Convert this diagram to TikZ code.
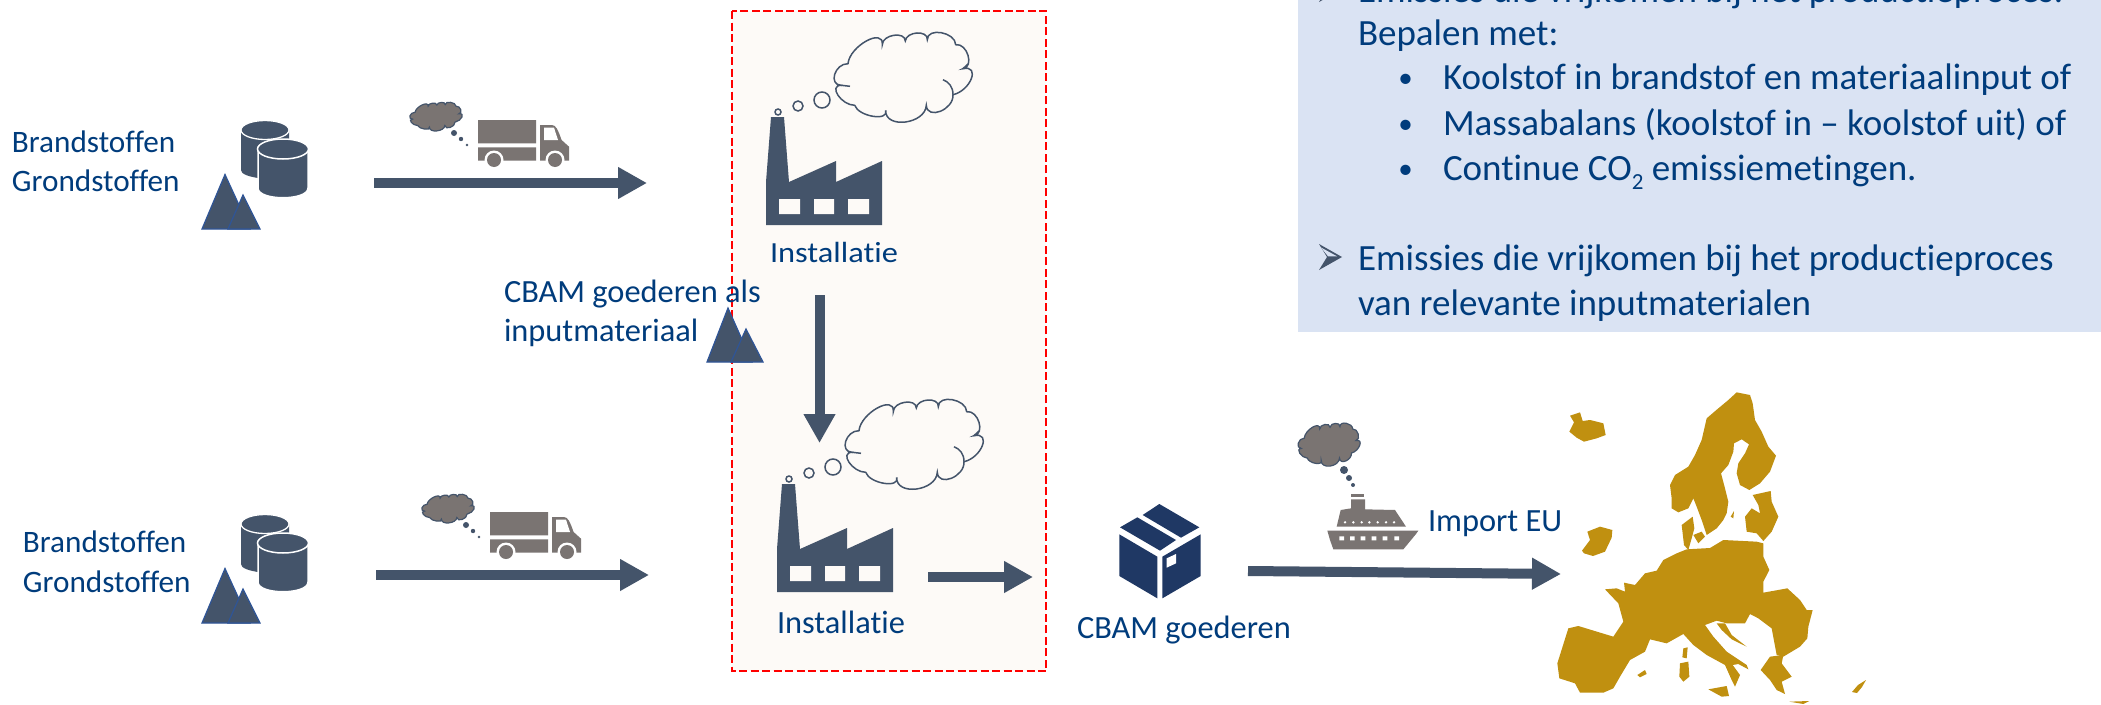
\documentclass[tikz,border=0pt]{standalone}
\usepackage{fontspec}
\setmainfont[Ligatures=NoCommon]{Carlito}
\usetikzlibrary{arrows.meta}
\definecolor{slate}{HTML}{44546A}
\definecolor{txt}{HTML}{003C7C}
\definecolor{smoke}{HTML}{7A7472}
\definecolor{gold}{HTML}{C09010}
\definecolor{panel}{HTML}{DAE3F3}
\definecolor{tint}{HTML}{FDFAF7}
\definecolor{boxblue}{HTML}{1F3864}
\definecolor{triline}{HTML}{2F5597}
\newcommand{\lobe}[6]{.. controls ({#1+4/3*(#3-(#1+#5)/2)},{#2+4/3*(#4-(#2+#6)/2)}) and ({#5+4/3*(#3-(#1+#5)/2)},{#6+4/3*(#4-(#2+#6)/2)}) .. (#5,#6)}
\newcommand{\cloudoutline}{(-55,-13.3)
 \lobe{-55}{-13.3}{-36.7}{-36}{-20.7}{-32.3}
 \lobe{-20.7}{-32.3}{-9.3}{-41.7}{2.3}{-36}
 \lobe{2.3}{-36}{14}{-44}{24.3}{-37.3}
 \lobe{24.3}{-37.3}{38.3}{-44.3}{52.7}{-32.3}
 \lobe{52.7}{-32.3}{65}{-21.7}{60}{-8.3}
 \lobe{60}{-8.3}{68.3}{1.7}{50}{17.7}
 \lobe{50}{17.7}{37.3}{34.3}{23.3}{28.3}
 \lobe{23.3}{28.3}{2.3}{45}{-17.3}{33.3}
 \lobe{-17.3}{33.3}{-30}{39.3}{-48.3}{28.3}
 \lobe{-48.3}{28.3}{-65}{18.3}{-61.7}{8.3}
 \lobe{-61.7}{8.3}{-68.3}{-2.7}{-55}{-13.3}
 -- cycle}
\newcommand{\cloudhooks}{(50,17.7) .. controls (50,10) and (46,5) .. (40,2.7)
 (-61.7,8.3) -- (-53,9.3) (60,-8.3) -- (65,-13)}
\tikzset{
 x=1pt,y=-1pt,
 every node/.style={inner sep=0pt,outer sep=0pt,text=txt,font=\fontsize{32.4}{39}\selectfont},
 lab/.style={anchor=base west},
 labA/.style={anchor=base west,font=\fontsize{31.2}{38}\selectfont},
 labB/.style={anchor=base west,font=\fontsize{37}{44}\selectfont},
 bul/.style={anchor=base,font=\fontsize{29}{34}\selectfont},
 flow/.style={draw=slate,line width=10pt,-{Triangle[length=29pt,width=30pt]}},
 wcloud/.style={draw=slate,line width=1.5pt},
 gcloud/.style={fill=smoke,draw=slate,line width=1.2pt},
 mountain/.style={fill=slate,draw=triline,line width=1.2pt,line join=miter},
 pics/factory/.style={code={
   \fill[slate] (5,-108) -- (18,-108) -- (23,-43) -- (70,-64) -- (70,-43) -- (116,-64) -- (116,0) -- (0,0) -- (0,-43) -- cycle;
   \fill[tint] (13,-26) rectangle (34,-11) (48,-26) rectangle (68,-11) (82,-26) rectangle (103,-11);
   \draw[slate,line width=1.5pt] (12,-113) circle (3) (32,-119) circle (5) (56,-125) circle (8);
   \begin{scope}[shift={(137,-148)}]
     \draw[wcloud] \cloudoutline;
     \draw[wcloud] \cloudhooks;
   \end{scope}
 }},
 pics/truck/.style={code={
   \fill[smoke] (0,0) rectangle (58,23.3) (0,27.3) rectangle (58,40.7);
   \fill[smoke] (62,5) -- (74,5) .. controls (78,5) and (80,10) .. (83.6,20) -- (91,26.7) -- (91,40.7) -- (62,40.7) -- cycle;
   \fill[white] (66,7.7) -- (76,7.7) -- (80,20) -- (66,20) -- cycle;
   \fill[white] (16,40) circle (9.5) (77,40) circle (9.5);
   \fill[smoke] (16,40) circle (7) (77,40) circle (7);
   \begin{scope}[shift={(-42,-3.5)},xscale=.38,yscale=.32]
     \draw[gcloud] \cloudoutline;
   \end{scope}
   \fill[slate] (-24,13) circle (3) (-17,19) circle (2.2) (-11,25) circle (1.4);
 }},
 pics/stock/.style={code={
   \fill[slate] (241,130) -- (241,170) .. controls (241,174) and (248,177) .. (265,179) -- (289,179) -- (289,130) -- cycle;
   \draw[white,line width=1.3pt,fill=slate] (265,130) ellipse (24 and 9.5);
   \draw[white,line width=1.5pt,fill=slate] (258,149) -- (258,188) .. controls (258,201) and (308,201) .. (308,188) -- (308,149);
   \draw[white,line width=1.5pt,fill=slate] (283,149) ellipse (25.5 and 10);
   \draw[mountain] (225,174.5) -- (250,229) -- (202,229) -- cycle;
   \draw[mountain] (243,195) -- (260,229) -- (228,229) -- cycle;
 }},
 pics/chevron/.style={code={
   \fill[slate] (0,-13) -- (23,0) -- (0,13) -- (8,0) -- cycle;
   \fill[panel] (2,-9.5) -- (18,-0.7) -- (9,-0.7) -- cycle;
 }}
}
\begin{document}
\begin{tikzpicture}
\useasboundingbox (0,0) rectangle (2101,704);
\clip (0,0) rectangle (2101,704);
\fill[white] (0,0) rectangle (2101,704);

% panel
\fill[panel] (1298,-5) rectangle (2101,332);
\path (1319,-11) pic {chevron} (1319,257) pic {chevron};
\node[labB] (p1) at (1358,2) {Emissies die vrijkomen bij het productieproces:};
\node[labB] (p2) at (1358,45) {Bepalen met:};
\node[bul] (b1) at (1405.5,87) {•};
\node[labB] (p3) at (1443,89) {Koolstof in brandstof en materiaalinput of};
\node[bul] (b2) at (1405.5,133) {•};
\node[labB] (p4) at (1443,135) {Massabalans (koolstof in – koolstof uit) of};
\node[bul] (b3) at (1405.5,178) {•};
\node[labB] (p5) at (1443,180) {Continue CO\raisebox{-0.25em}{\fontsize{23}{26}\selectfont 2} emissiemetingen.};
\node[labB] (p6) at (1358,270) {Emissies die vrijkomen bij het productieproces};
\node[labB] (p7) at (1358,315) {van relevante inputmaterialen};

% red frame
\draw[fill=tint,draw=red,line width=2.6pt,dash pattern=on 8pt off 3.5pt] (732,11) rectangle (1046,671);

% raw material groups
\path (0,0) pic {stock} (0,394) pic {stock};
\draw[mountain] (728,308) -- (752,362) -- (707,362) -- cycle;
\draw[mountain] (746,329) -- (763,362) -- (731,362) -- cycle;

\node[labA] (brand1) at (12,152) {Brandstoffen};
\node[labA] (grond1) at (12,191) {Grondstoffen};
\node[labA] (brand2) at (23,552) {Brandstoffen};
\node[labA] (grond2) at (23,592) {Grondstoffen};

% trucks
\path (478,120) pic {truck} (490,512) pic {truck};

% factories
\path (766,225) pic {factory} (777,592) pic {factory};
\node[lab,yscale=.9] (inst1) at (770,262) {Installatie};
\node[lab] (inst2) at (777,633) {Installatie};
\node[lab] (input1) at (504,302) {CBAM goederen als};
\node[lab] (input2) at (504,341) {inputmateriaal};

% goods box
\begin{scope}[shift={(1050,400)},scale=1/3]
 \fill[boxblue] (208,403) -- (322,470) -- (322,595) -- (208,528) -- cycle;
 \fill[boxblue] (337,470) -- (452,403) -- (452,528) -- (337,595) -- cycle;
 \fill[boxblue] (328,312) -- (448,382) -- (393,413) -- (278,345) -- cycle;
 \fill[boxblue] (262,352) -- (378,420) -- (330,452) -- (210,382) -- cycle;
 \fill[white] (350,475) -- (378,462) -- (378,490) -- (350,503) -- cycle;
\end{scope}
\node[lab] (goods) at (1077,638) {CBAM goederen};

% ship
\begin{scope}[shift={(1050,400)},scale=1/3]
 \fill[smoke] (832,392) -- (1105,392) -- (1098,402) -- (1060,448) -- (850,448) -- (840,420) -- cycle;
 \fill[smoke] (860,380) -- (1068,380) -- (1035,330) -- (945,328) -- (945,298) -- (903,298) -- (903,325) -- (872,330) -- cycle;
 \fill[smoke] (903,282) rectangle (943,292);
 \fill[white] \foreach \px in {875,907,939,972,1005,1040}{(\px-7,409) rectangle (\px+7,421)};
 \fill[white] \foreach \px in {885,910,935,958,983,1008,1032}{(\px,367) circle (4)};
\end{scope}
\begin{scope}[shift={(1329,444.5)},xscale=.45,yscale=.48]
 \draw[gcloud] \cloudoutline;
\end{scope}
\fill[slate] (1344,470) circle (4) (1349,478) circle (3) (1353,485) circle (2);
\node[lab] (import) at (1428,531) {Import EU};

% Europe, northern part
\begin{scope}[shift={(1560,385)},scale=1/3]
 \fill[gold] (28,140) -- (42,112) -- (30,92) -- (60,82) -- (68,108) -- (90,105) -- (130,115) -- (137,150) -- (110,160) -- (72,170) -- (50,158) -- cycle;
 \fill[gold] (335,370) -- (355,382) -- (385,370) -- (400,340) -- (410,365) -- (425,405) -- (440,450) -- (470,430) -- (490,405) -- (500,385) -- (505,350) -- (495,310) -- (483,265) -- (505,240) -- (520,200) -- (522,175) -- (545,163) -- (567,178) -- (555,205) -- (535,235) -- (530,265) -- (540,300) -- (568,315) -- (600,295) -- (630,260) -- (648,212) -- (625,185) -- (605,140) -- (585,105) -- (578,55) -- (570,30) -- (530,22) -- (505,45) -- (475,70) -- (440,100) -- (425,165) -- (405,210) -- (385,245) -- (345,270) -- (330,300) -- (335,340) -- cycle;
 \fill[gold] (555,395) -- (575,370) -- (600,385) -- (595,360) -- (578,330) -- (632,318) -- (635,350) -- (655,395) -- (635,440) -- (610,468) -- (590,445) -- (560,440) -- cycle;
 \fill[gold] (365,420) -- (398,395) -- (403,430) -- (395,460) -- (385,495) -- (372,480) -- cycle;
 \fill[gold] (400,450) -- (425,440) -- (435,455) -- (415,475) -- cycle;
 \fill[gold] (512,395) -- (522,378) -- (520,400) -- cycle;
 \fill[gold] (66,497) -- (90,465) -- (82,440) -- (120,425) -- (157,435) -- (155,458) -- (135,500) -- (99,513) -- (72,505) -- cycle;
\end{scope}
% Europe, southern part
\begin{scope}[shift={(1550,540)},scale=1/3]
 \fill[gold] (165,148) -- (200,145) -- (225,155) -- (222,128) -- (255,135) -- (285,100) -- (320,92) -- (340,60) -- (380,40) -- (410,28) -- (480,24) -- (520,0) -- (620,5) -- (640,10) -- (640,50) -- (658,90) -- (640,125) -- (640,158) -- (712,145) -- (750,180) -- (770,210) -- (788,210) -- (775,260) -- (772,295) -- (750,320) -- (700,350) -- (680,345) -- (665,265) -- (625,235) -- (600,222) -- (585,250) -- (530,250) -- (500,242) -- (465,255) -- (490,290) -- (530,335) -- (590,375) -- (595,388) -- (565,372) -- (548,375) -- (570,405) -- (555,440) -- (545,420) -- (525,375) -- (470,345) -- (430,315) -- (400,282) -- (350,310) -- (300,298) -- (285,335) -- (240,360) -- (210,410) -- (190,445) -- (160,458) -- (90,458) -- (75,430) -- (28,415) -- (22,370) -- (55,265) -- (85,258) -- (190,290) -- (220,245) -- (205,190) -- cycle;
 \fill[gold] (500,250) -- (525,250) -- (545,285) -- (590,320) -- (545,298) -- (515,270) -- cycle;
 \fill[gold] (632,390) -- (660,350) -- (700,345) -- (695,370) -- (725,410) -- (695,425) -- (705,462) -- (680,450) -- (660,420) -- cycle;
 \fill[gold] (388,410) -- (390,370) -- (415,365) -- (418,410) -- (400,425) -- cycle;
 \fill[gold] (397,352) -- (400,325) -- (413,322) -- (410,355) -- cycle;
 \fill[gold] (475,448) -- (530,438) -- (537,468) -- (515,470) -- cycle;
 \fill[gold] (262,405) -- (285,390) -- (290,402) -- (270,412) -- cycle;
 \fill[gold] (718,485) -- (778,483) -- (760,492) -- cycle;
\end{scope}
\fill[gold] (1852,692) -- (1858,685) -- (1866,680) -- (1862,687) -- (1857,693) -- cycle;

% connector end points
\coordinate (a1s) at (374,183);
\coordinate (a1e) at (647,183);
\coordinate (a2s) at (376,575);
\coordinate (a2e) at (649,575);
\coordinate (a3s) at (819.5,295);
\coordinate (a3e) at (819.5,443);
\coordinate (a4s) at (928,577);
\coordinate (a4e) at (1033,577);
\coordinate (a5s) at (1248,571);
\coordinate (a5e) at (1561,574);
\draw[flow] (a1s) -- (a1e);
\draw[flow] (a2s) -- (a2e);
\draw[flow] (a3s) -- (a3e);
\draw[flow] (a4s) -- (a4e);
\draw[flow] (a5s) -- (a5e);
\end{tikzpicture}
\end{document}
